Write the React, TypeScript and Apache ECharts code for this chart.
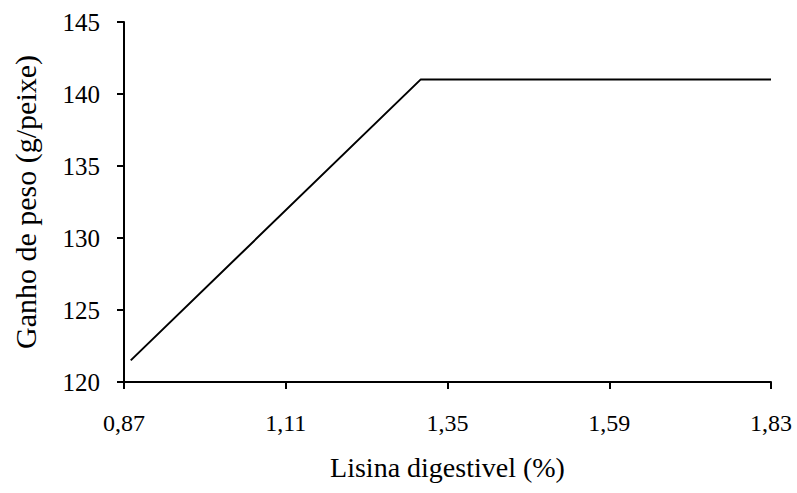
import React, { useEffect, useRef } from "react";
import * as echarts from "echarts";

const xValues = [0.88, 1.31, 1.83];
const yValues = [121.5, 141, 141];
const xTicks = [0.87, 1.11, 1.35, 1.59, 1.83];
const xAxisTitle = "Lisina digestivel (%)";
const yAxisTitle = "Ganho de peso (g/peixe)";

export default function App() {
  const ref = useRef<HTMLDivElement>(null);
  useEffect(() => {
    if (!ref.current) return;
    const chart = echarts.init(ref.current, undefined, { renderer: "svg" });
    const font = "'Liberation Serif', 'Times New Roman', serif";
    chart.setOption({
      animation: false,
      backgroundColor: "#ffffff",
      grid: { left: 124, right: 26, top: 22, bottom: 111, containLabel: false },
      xAxis: {
        type: "value",
        min: xTicks[0],
        max: xTicks[xTicks.length - 1],
        interval: 0.24,
        name: xAxisTitle,
        nameLocation: "middle",
        nameGap: 71,
        nameTextStyle: { fontFamily: font, fontSize: 28, color: "#000" },
        axisLine: { show: true, lineStyle: { color: "#000", width: 2 } },
        axisTick: { show: true, inside: false, length: 7, lineStyle: { color: "#000", width: 2 } },
        axisLabel: {
          margin: 29,
          fontFamily: font,
          fontSize: 24,
          color: "#000",
          hideOverlap: false,
          formatter: (v: number) => v.toFixed(2).replace(".", ","),
        },
        splitLine: { show: false },
      },
      yAxis: {
        type: "value",
        min: 120,
        max: 145,
        interval: 5,
        name: yAxisTitle,
        nameLocation: "middle",
        nameGap: 84,
        nameRotate: 90,
        nameTextStyle: { fontFamily: font, fontSize: 30, color: "#000" },
        axisLine: { show: true, lineStyle: { color: "#000", width: 2 } },
        axisTick: { show: true, inside: false, length: 7, lineStyle: { color: "#000", width: 2 } },
        axisLabel: { margin: 24, fontFamily: font, fontSize: 25, color: "#000" },
        splitLine: { show: false },
      },
      series: [
        {
          type: "line",
          data: xValues.map((x, i) => [x, yValues[i]]),
          showSymbol: false,
          symbol: "none",
          lineStyle: { color: "#000", width: 2 },
        },
      ],
    });
    return () => chart.dispose();
  }, []);
  return (
    <div
      ref={ref}
      style={{ position: "absolute", left: 0, top: 0, width: 797, height: 493 }}
    />
  );
}
